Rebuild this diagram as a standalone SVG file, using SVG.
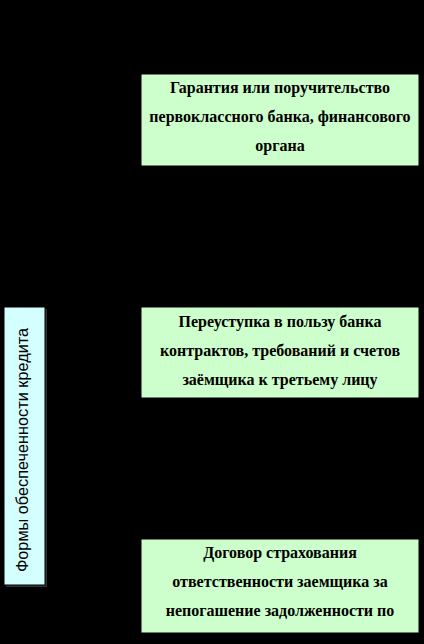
<svg xmlns="http://www.w3.org/2000/svg" width="424" height="644" viewBox="0 0 424 644">
<style>
.g{fill:#ccffcc;stroke:#000;stroke-width:1}
.t{font-family:"Liberation Serif","Times New Roman",serif;font-weight:bold;font-size:16px;fill:#000;text-anchor:middle}
.c{fill:#d4ffff;stroke:#000;stroke-width:1}
.v{font-family:"Liberation Sans",Arial,sans-serif;font-size:16.3px;fill:#000;text-anchor:middle}
</style>
<rect x="0" y="0" width="424" height="644" fill="#000"/>
<g id="connectors"></g>
<g id="forms">
<rect x="6" y="309" width="41" height="278" fill="#333"/>
<rect class="c" x="4" y="307" width="41" height="278"/>
<text class="v" transform="translate(28,450) rotate(-90)">Формы обеспеченности кредита</text>
</g>
<g id="guarantee">
<rect class="g" x="141" y="74" width="278" height="92"/>
<text class="t" x="280" y="93">Гарантия или поручительство</text>
<text class="t" x="280" y="122">первоклассного банка, финансового</text>
<text class="t" x="280" y="151">органа</text>
</g>
<g id="assignment">
<rect class="g" x="141" y="307" width="278" height="91"/>
<text class="t" x="280" y="327">Переуступка в пользу банка</text>
<text class="t" x="280" y="356">контрактов, требований и счетов</text>
<text class="t" x="280" y="385">заёмщика к третьему лицу</text>
</g>
<g id="insurance">
<rect class="g" x="141" y="539" width="278" height="94"/>
<text class="t" x="280" y="558">Договор страхования</text>
<text class="t" x="280" y="587">ответственности заемщика за</text>
<text class="t" x="280" y="616">непогашение задолженности по</text>
</g>
</svg>
